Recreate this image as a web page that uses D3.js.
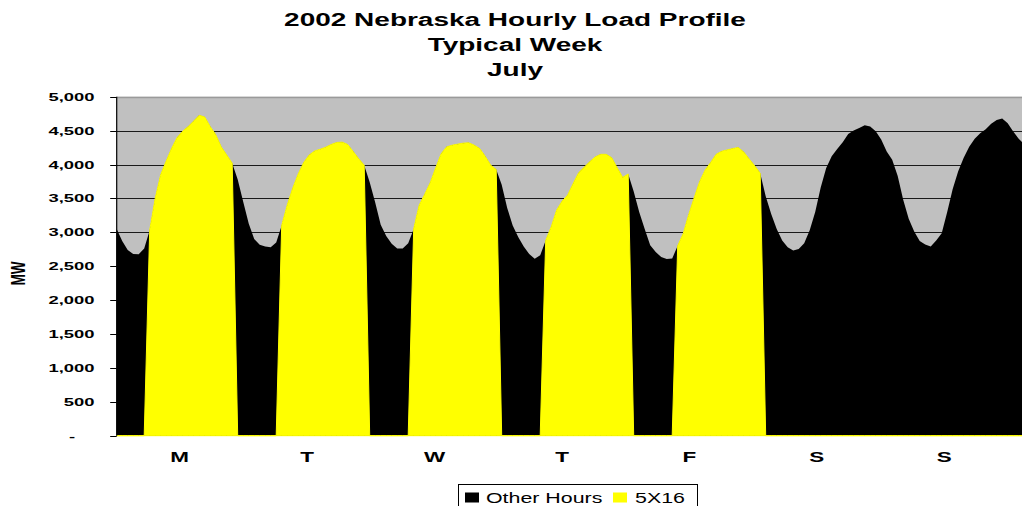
<!DOCTYPE html>
<html>
<head>
<meta charset="utf-8">
<script src="https://cdn.jsdelivr.net/npm/d3@7"></script>
<style>
  html, body { margin: 0; padding: 0; background: #fff; }
  svg { display: block; }
  text { font-family: "Liberation Sans", Arial, sans-serif; fill: #000; }
</style>
</head>
<body>
<svg id="chart" width="1022" height="506"></svg>
<script>
// ---- Data (MW, hour ending 1..24 for each day of a typical July week) ----
const dayLabels = ["M", "T", "W", "T", "F", "S", "S"];
const loadMon = [3050, 2870, 2740, 2680, 2675, 2760, 3030, 3500, 3850, 4050, 4240, 4400,
                 4490, 4560, 4640, 4725, 4700, 4560, 4440, 4260, 4140, 4020, 3780, 3450];
const loadTue = [3130, 2900, 2815, 2790, 2780, 2850, 3100, 3400, 3650, 3860, 4030, 4140,
                 4200, 4225, 4255, 4295, 4325, 4330, 4295, 4190, 4085, 3990, 3740, 3440];
const loadWed = [3110, 2945, 2830, 2760, 2760, 2840, 3050, 3400, 3560, 3730, 3950, 4160,
                 4260, 4285, 4300, 4315, 4320, 4285, 4235, 4120, 3990, 3925, 3700, 3360];
const loadThu = [3100, 2930, 2790, 2680, 2610, 2660, 2880, 3080, 3330, 3460, 3550, 3720,
                 3880, 3960, 4040, 4110, 4150, 4150, 4100, 3950, 3810, 3860, 3600, 3300];
const loadFri = [3050, 2810, 2710, 2635, 2606, 2615, 2800, 2980, 3260, 3510, 3750, 3920,
                 4030, 4150, 4195, 4215, 4235, 4250, 4185, 4080, 3980, 3870, 3530, 3270];
const loadSat = [3050, 2880, 2780, 2730, 2755, 2840, 3030, 3300, 3660, 3950, 4120, 4230,
                 4330, 4450, 4500, 4540, 4580, 4560, 4490, 4370, 4190, 4070, 3830, 3480];
const loadSun = [3200, 3010, 2870, 2820, 2790, 2880, 2985, 3300, 3640, 3900, 4100, 4260,
                 4380, 4460, 4520, 4600, 4655, 4680, 4610, 4485, 4380, 4300, 4150, 3950];
const weekLoads = [loadMon, loadTue, loadWed, loadThu, loadFri, loadSat, loadSun];
const weekdayFlags = [true, true, true, true, true, false, false];   // 5 days
const peakFirstHour = 6, peakLastHour = 21;                          // 16 hours (HE7-HE22)
const yTicks = [0, 500, 1000, 1500, 2000, 2500, 3000, 3500, 4000, 4500, 5000];
const seriesNames = ["Other Hours", "5X16"];
const titleLines = ["2002 Nebraska Hourly Load Profile", "Typical Week", "July"];

// ---- Build series ----
const hours = [];
weekLoads.forEach((arr, d) => arr.forEach((v, h) => {
  const peak = weekdayFlags[d] && h >= peakFirstHour && h <= peakLastHour;
  hours.push({ i: d * 24 + h, load: v, peak: peak ? v : 0 });
}));

// ---- Layout ----
const svg = d3.select("#chart");
const W = 1022, H = 506;
const plot = { left: 116.7, top: 96.7, bottom: 435.7, rightData: 1035.2 };
const x = d3.scaleLinear().domain([0, hours.length - 1]).range([plot.left, plot.rightData]);
const y = d3.scaleLinear().domain([0, 5000]).range([plot.bottom, plot.top]);
const dayScale = d3.scaleBand().domain(d3.range(7)).range([116, 1008]);

function stretchText(g, str, tx, ty, sx, opts) {
  return g.append("text")
    .attr("transform", `translate(${tx},${ty}) scale(${sx},1)`)
    .attr("text-anchor", opts.anchor || "start")
    .style("font-size", opts.size + "px")
    .style("font-weight", opts.weight || "normal")
    .text(str);
}

// plot background
svg.append("rect")
  .attr("x", plot.left).attr("y", plot.top)
  .attr("width", W - plot.left).attr("height", plot.bottom - plot.top)
  .attr("fill", "#c0c0c0");

// gridlines
svg.append("g").selectAll("line")
  .data(yTicks.filter(d => d > 0))
  .join("line")
  .attr("x1", plot.left).attr("x2", W)
  .attr("y1", d => Math.round(y(d)) + 0.5).attr("y2", d => Math.round(y(d)) + 0.5)
  .attr("stroke", d => d === 5000 ? "#9a9a9a" : "#1a1a1a")
  .attr("stroke-width", d => d === 5000 ? 1.5 : 1);

// areas
const areaAll = d3.area().x(d => x(d.i)).y0(y(0)).y1(d => y(d.load));
const areaPeak = d3.area().x(d => x(d.i)).y0(y(0)).y1(d => y(d.peak));
svg.append("path").datum(hours).attr("d", areaAll).attr("fill", "#000");
svg.append("path").datum(hours).attr("d", areaPeak)
  .attr("fill", "#ffff00").attr("stroke", "#ffff00").attr("stroke-width", 1);

// y axis
const yAxis = svg.append("g");
yAxis.append("line")
  .attr("x1", plot.left).attr("x2", plot.left)
  .attr("y1", plot.top).attr("y2", plot.bottom)
  .attr("stroke", "#000").attr("stroke-width", 1.2);
yAxis.selectAll("line.tick").data(yTicks).join("line").attr("class", "tick")
  .attr("x1", plot.left - 6.5).attr("x2", plot.left)
  .attr("y1", d => Math.round(y(d)) + 0.5).attr("y2", d => Math.round(y(d)) + 0.5)
  .attr("stroke", "#000").attr("stroke-width", 1);
const fmt = d3.format(",");
yTicks.forEach(v => {
  if (v === 0) {
    stretchText(yAxis, "-", 72, y(v) + 4, 1.6, { size: 11.5, weight: "bold", anchor: "middle" });
  } else {
    stretchText(yAxis, fmt(v), 94.5, y(v) + 4, 1.6, { size: 11.5, weight: "bold", anchor: "end" });
  }
});

// y axis title (rotated, stretched like the rest of the picture)
svg.append("text")
  .attr("transform", `translate(24.5,273.5) rotate(-90) scale(1.05,1.55)`)
  .attr("text-anchor", "middle")
  .style("font-size", "13px").style("font-weight", "bold")
  .text("MW");

// x day labels
const xg = svg.append("g");
dayLabels.forEach((lab, k) => {
  stretchText(xg, lab, dayScale(k) + dayScale.bandwidth() / 2, 461.5, 1.55,
    { size: 14.5, weight: "bold", anchor: "middle" });
});

// title
const tg = svg.append("g");
const titleBase = [25.5, 51, 76];
titleLines.forEach((s, k) => {
  stretchText(tg, s, 515, titleBase[k], 1.6, { size: 17.5, weight: "bold", anchor: "middle" });
});

// legend
const lg = svg.append("g");
lg.append("rect").attr("x", 458.5).attr("y", 484.5).attr("width", 239).attr("height", 40)
  .attr("fill", "#fff").attr("stroke", "#000").attr("stroke-width", 1);
const legendItems = [
  { name: seriesNames[0], color: "#000", sx: 465, tx: 486 },
  { name: seriesNames[1], color: "#ffff00", sx: 613, tx: 635 }
];
legendItems.forEach(it => {
  lg.append("rect").attr("x", it.sx).attr("y", 492.5).attr("width", 14).attr("height", 10)
    .attr("fill", it.color);
  stretchText(lg, it.name, it.tx, 502.7, 1.38, { size: 15.5, anchor: "start" });
});
</script>
</body>
</html>
